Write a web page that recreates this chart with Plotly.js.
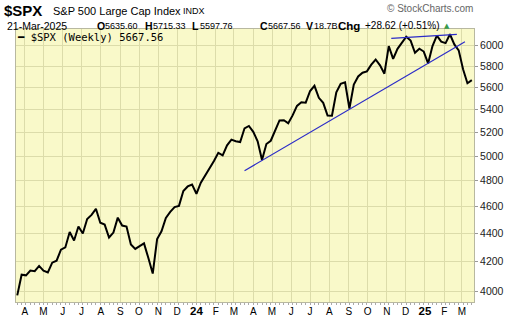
<!DOCTYPE html>
<html>
<head>
<meta charset="utf-8">
<script src="https://cdn.plot.ly/plotly-3.0.1.min.js"></script>
<style>html,body{margin:0;padding:0;background:#fff;}#chart{width:520px;height:318px;}</style>
</head>
<body>
<div id="chart"></div>
<script>
// ---- data ----
const firstWeek = '2023-03-20'; // Monday of first weekly bar
const weeklyCloses = [
  3970.99, 4109.31, 4105.02, 4137.64, 4133.52, 4169.48, 4136.25, 4124.08, 4191.98, 4205.45,
  4282.37, 4298.86, 4409.59, 4348.33, 4450.38, 4398.95, 4505.42, 4536.34, 4582.23, 4478.03,
  4464.05, 4369.71, 4405.71, 4515.77, 4457.49, 4450.32, 4320.06, 4288.05, 4308.50, 4327.78,
  4224.16, 4117.37, 4358.34, 4415.24, 4514.02, 4559.34, 4594.63, 4604.37, 4719.19, 4754.63,
  4769.83, 4697.24, 4783.83, 4839.81, 4890.97, 4958.61, 5026.61, 5005.57, 5088.80, 5137.08,
  5123.69, 5117.09, 5234.18, 5254.35, 5204.34, 5123.41, 4967.23, 5099.96, 5127.79, 5222.68,
  5303.27, 5304.72, 5277.51, 5346.99, 5431.60, 5464.62, 5460.48, 5567.19, 5615.35, 5505.00,
  5459.10, 5346.56, 5344.16, 5554.25, 5634.61, 5648.40, 5408.42, 5626.02, 5702.55, 5738.17,
  5751.07, 5815.03, 5864.67, 5808.12, 5728.80, 5995.54, 5870.62, 5969.34, 6032.38, 6090.27,
  6051.09, 5930.85, 5970.84, 5942.47, 5827.04, 5996.66, 6101.24, 6040.53, 6025.99, 6114.63,
  6013.13, 5954.50, 5770.20, 5638.94, 5667.56
];
const lowerTrendDates = ['2024-03-18', '2025-03-06'];
const lowerTrendValues = [4880, 6040];
const upperTrendDates = ['2024-11-08', '2025-02-21'];
const upperTrendValues = [6074, 6114];
const monthTickDates = ['2023-04-01','2023-05-01','2023-06-01','2023-07-01','2023-08-01','2023-09-01','2023-10-01','2023-11-01','2023-12-01',
  '2024-01-01','2024-02-01','2024-03-01','2024-04-01','2024-05-01','2024-06-01','2024-07-01','2024-08-01','2024-09-01','2024-10-01','2024-11-01','2024-12-01',
  '2025-01-01','2025-02-01','2025-03-01'];
const monthTickLabels = ['A','M','J','J','A','S','O','N','D','24','F','M','A','M','J','J','A','S','O','N','D','25','F','M'];
const priceTicks = [4000,4200,4400,4600,4800,5000,5200,5400,5600,5800,6000];

// header quote fields
const quoteDate = '21-Mar-2025';
const quoteLabels = ['O', 'H', 'L', 'C', 'V', 'Chg'];
const quoteValues = ['5635.60', '5715.33', '5597.76', '5667.56', '18.7B', '+28.62 (+0.51%)'];

// weekly dates (Monday of each week)
const weekDates = weeklyCloses.map((_, i) => {
  const d = new Date(firstWeek + 'T00:00:00Z');
  d.setUTCDate(d.getUTCDate() + 7 * i);
  return d.toISOString().slice(0, 10);
});

const tickText = monthTickLabels.map(t => /^\d+$/.test(t) ? '<b><span style="font-size:11.5px">' + t + '</span></b>' : t);

// pixel -> paper helpers for header texts
const L = 16, R = 474, T = 29, B = 302;
const px = x => (x - L) / (R - L);
const py = y => (B - y) / (B - T);
const FONT = 'Liberation Sans, Arial, sans-serif';
const ann = (x, y, text, size, extra) => Object.assign({
  xref: 'paper', yref: 'paper', x: px(x), y: py(y), xanchor: 'left', yanchor: 'middle',
  text: text, showarrow: false, borderpad: 0, font: {family: FONT, size: size, color: '#000'}
}, extra || {});

const labelX = [96, 144, 191, 259, 305, 337];
const valueX = [104, 152, 199, 267, 313, 364];
const line2Y = 25.5;

const headerAnn = [
  ann(3, 10, '<b>$SPX</b>', 15),
  ann(52, 11, 'S&amp;P 500 Large Cap Index', 11),
  ann(182, 11, 'INDX', 9),
  ann(6, line2Y, quoteDate, 10.5),
  ann(443, line2Y, '▲', 7, {font: {family: 'DejaVu Sans, sans-serif', size: 7, color: '#3a9a4a'}}),
  ann(386, 8.5, '© StockCharts.com', 10, {font: {family: FONT, size: 10, color: '#666'}}),
  ann(16, 36.5, '━ $SPX (Weekly) 5667.56', 10.5, {font: {family: 'DejaVu Sans Mono, monospace', size: 10.5, color: '#000'}})
];
quoteLabels.forEach((lab, i) => {
  headerAnn.push(ann(labelX[i], line2Y, '<b>' + lab + '</b>', i === 5 ? 11.5 : 10.5));
  headerAnn.push(ann(valueX[i], line2Y, quoteValues[i], i === 5 ? 10 : 9));
});

const traces = [
  {x: weekDates, y: weeklyCloses, type: 'scatter', mode: 'lines', line: {color: '#000', width: 2}, hoverinfo: 'skip'},
  {x: lowerTrendDates, y: lowerTrendValues, type: 'scatter', mode: 'lines', line: {color: '#2b2bc8', width: 1.2}, hoverinfo: 'skip'},
  {x: upperTrendDates, y: upperTrendValues, type: 'scatter', mode: 'lines', line: {color: '#2b2bc8', width: 1.2}, hoverinfo: 'skip'}
];

const layout = {
  width: 520, height: 318,
  margin: {l: L, r: 520 - R, t: T, b: 318 - B},
  paper_bgcolor: '#ffffff',
  plot_bgcolor: '#f9f9c9',
  showlegend: false,
  xaxis: {
    type: 'date', range: ['2023-03-18', '2025-03-20 12:00'],
    tickvals: monthTickDates, ticktext: tickText,
    tickfont: {family: FONT, size: 10, color: '#000'},
    showgrid: true, gridcolor: '#dcdcaa', gridwidth: 1,
    ticks: '', ticklabelstandoff: 0,
    minor: {dtick: 7 * 86400000, tick0: '2023-03-20', ticks: 'outside', ticklen: 2, tickcolor: '#aaa', showgrid: false},
    showline: true, linecolor: '#b8b8a0', linewidth: 1, mirror: true,
    zeroline: false, fixedrange: true
  },
  yaxis: {
    type: 'log', side: 'right',
    range: [Math.log10(3928), Math.log10(6168)],
    tickvals: priceTicks, ticktext: priceTicks.map(String),
    tickfont: {family: FONT, size: 10.5, color: '#222'},
    showgrid: true, gridcolor: '#dcdcaa', gridwidth: 1,
    ticks: 'outside', ticklen: 3, tickcolor: '#999',
    showline: true, linecolor: '#b8b8a0', linewidth: 1, mirror: true,
    zeroline: false, fixedrange: true
  },
  annotations: headerAnn
};

Plotly.newPlot('chart', traces, layout, {staticPlot: true, displayModeBar: false});
</script>
</body>
</html>
